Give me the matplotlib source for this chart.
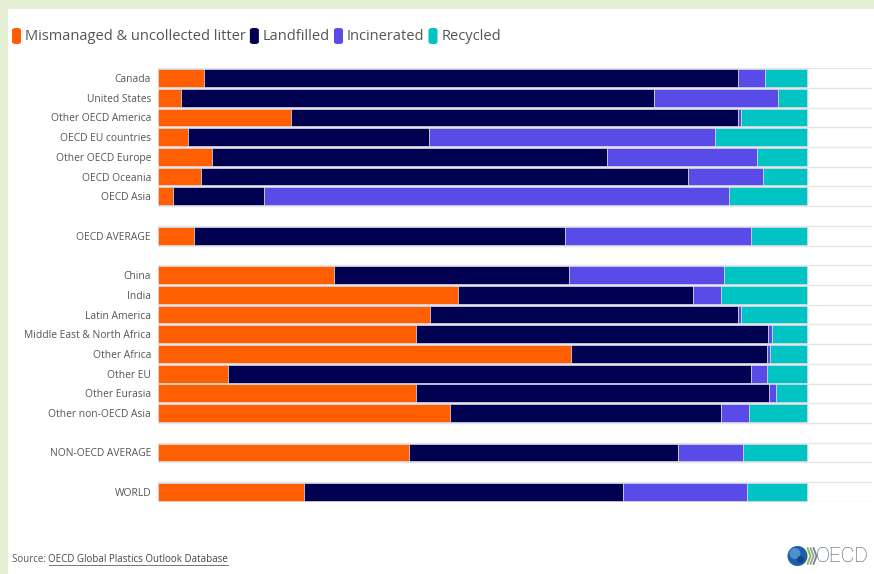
import matplotlib
matplotlib.use("Agg")
import matplotlib.pyplot as plt
from matplotlib.patches import FancyBboxPatch, Rectangle, Circle
from matplotlib.lines import Line2D
import numpy as np

# ---------------- data ----------------
categories = ["Canada", "United States", "Other OECD America", "OECD EU countries",
              "Other OECD Europe", "OECD Oceania", "OECD Asia", "",
              "OECD AVERAGE", "",
              "China", "India", "Latin America", "Middle East & North Africa",
              "Other Africa", "Other EU", "Other Eurasia", "Other non-OECD Asia", "",
              "NON-OECD AVERAGE", "",
              "WORLD"]
mismanaged = [7.1, 3.5, 20.5, 4.6, 8.3, 6.7, 2.3, None,
              5.5, None,
              27.1, 46.2, 41.9, 39.8, 63.6, 10.8, 39.7, 45.0, None,
              38.6, None,
              22.5]
landfilled = [82.3, 72.9, 68.9, 37.2, 60.9, 75.0, 14.1, None,
              57.2, None,
              36.3, 36.3, 47.4, 54.2, 30.2, 80.6, 54.5, 41.7, None,
              41.6, None,
              49.2]
incinerated = [4.1, 19.2, 0.4, 44.0, 23.1, 11.5, 71.6, None,
               28.7, None,
               23.8, 4.2, 0.5, 0.6, 0.5, 2.5, 1.0, 4.4, None,
               9.9, None,
               19.1]
recycled = [6.5, 4.4, 10.2, 14.2, 7.7, 6.8, 12.0, None,
            8.6, None,
            12.8, 13.3, 10.2, 5.4, 5.7, 6.1, 4.8, 8.9, None,
            9.9, None,
            9.2]
series_names = ["Mismanaged & uncollected litter", "Landfilled", "Incinerated", "Recycled"]
series_colors = ["#ff5f00", "#000050", "#594be8", "#00c4c4"]

# ---------------- figure ----------------
W, H = 874, 574
fig = plt.figure(figsize=(W / 100, H / 100), dpi=100)
fig.patch.set_facecolor("#e4efd3")
fig.add_artist(Rectangle((8 / W, 0), 1 - 8 / W, 1 - 9 / H, transform=fig.transFigure,
                         facecolor="white", edgecolor="none", zorder=0))

FONT = ["Open Sans", "DejaVu Sans"]
TXT = "#555555"

n = len(categories)
row0, rowstep = 78.0, 19.71
top_px = row0 - rowstep / 2
bot_px = row0 + (n - 1) * rowstep + rowstep / 2
left_px, right_px = 158, 872
bar_end_px = 807
xmax = 100 * (right_px - left_px) / (bar_end_px - left_px)

ax = fig.add_axes([left_px / W, 1 - bot_px / H, (right_px - left_px) / W, (bot_px - top_px) / H])
ax.set_xlim(0, xmax)
ax.set_ylim(n - 0.5, -0.5)
ax.axis("off")

y = np.arange(n)
for b in np.arange(-0.5, n, 1.0):
    ax.axhline(b, color="#e6e6e6", lw=1.0, zorder=1)

valid = [i for i in range(n) if mismanaged[i] is not None]
left = np.zeros(n)
for vals, col in zip([mismanaged, landfilled, incinerated, recycled], series_colors):
    v = np.array([vals[i] if vals[i] is not None else 0 for i in range(n)], dtype=float)
    ax.barh(y[valid], v[valid], left=left[valid], height=0.9, color=col,
            edgecolor="#d8d8e8", linewidth=0.5, zorder=2)
    left += v

for i, c in enumerate(categories):
    if c:
        fig.text((left_px - 7) / W, 1 - (row0 + 1.5 + i * rowstep) / H, c, ha="right",
                 va="center", fontsize=7.4, color=TXT, family=FONT)

# ---------------- legend ----------------
fig.canvas.draw()
renderer = fig.canvas.get_renderer()
x = 12
ly = 36
for name, col in zip(series_names, series_colors):
    fig.add_artist(FancyBboxPatch((x / W, (H - ly - 8) / H), 9 / W, 16 / H,
                                  boxstyle="round,pad=0,rounding_size=0.004",
                                  transform=fig.transFigure, facecolor=col, edgecolor="none"))
    t = fig.text((x + 13) / W, 1 - (ly + 0.5) / H, name, ha="left", va="center", fontsize=10.5,
                 color=TXT, family=FONT)
    bb = t.get_window_extent(renderer)
    x = bb.x1 + 4

# ---------------- source ----------------
s1 = fig.text(12 / W, 1 - 559 / H, "Source: ", ha="left", va="center", fontsize=7.0,
              color=TXT, family=FONT)
bb = s1.get_window_extent(renderer)
s2 = fig.text(bb.x1 / W, 1 - 559 / H, "OECD Global Plastics Outlook Database", ha="left",
              va="center", fontsize=7.0, color="#444444", family=FONT)
bb2 = s2.get_window_extent(renderer)
fig.add_artist(Line2D([bb2.x0 / W, bb2.x1 / W], [(H - 565) / H, (H - 565) / H],
                      transform=fig.transFigure, color="#777777", lw=0.7))

# ---------------- OECD logo ----------------
cx, cy, r = 797.5, 556, 10
logo_ax = fig.add_axes([0, 0, 1, 1], facecolor="none")
logo_ax.set_xlim(0, W)
logo_ax.set_ylim(H, 0)
logo_ax.axis("off")
logo_ax.add_patch(Circle((cx, cy), r, facecolor="#1f5fa8", edgecolor="none"))
logo_ax.add_patch(Circle((cx - 2.5, cy - 2.5), 5.5, facecolor="#5a9ad6", edgecolor="none", alpha=0.8))
logo_ax.add_patch(Circle((cx + 3, cy + 3.5), 3.5, facecolor="#0d3f7a", edgecolor="none", alpha=0.8))
for k, colr in enumerate(["#8bbf3f", "#9aa5ad", "#7b8a95"]):
    xx = 807.5 + k * 3.0
    logo_ax.plot([xx, xx + 3, xx], [cy - 8, cy, cy + 8], color=colr, lw=1.4,
                 solid_capstyle="round")
logo_ax.text(816, cy + 0.5, "OECD", ha="left", va="center", fontsize=15, color="#4d5866",
             family=["Roboto", "DejaVu Sans"], fontweight="light")

fig.savefig("out.png", dpi=100, facecolor=fig.get_facecolor())
